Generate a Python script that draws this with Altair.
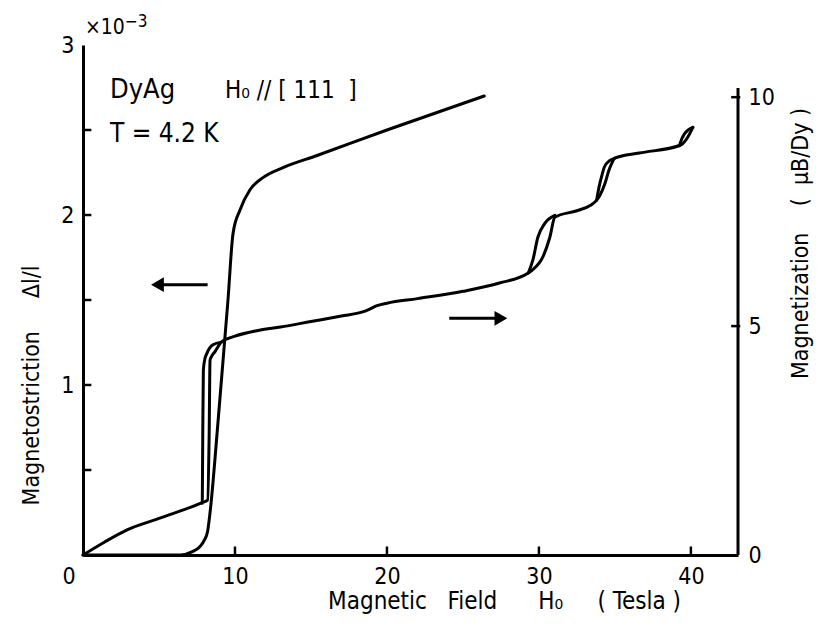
import altair as alt
import pandas as pd

FONT = "DejaVu Sans Condensed, DejaVu Sans"
SP = "\u00a0"

# ---- axis extents ----
x_domain = [0, 43.1]          # Magnetic field (Tesla)
y_left_domain = [0, 3]        # Magnetostriction (x10^-3)
y_right_domain = [0, 11.14]   # Magnetization (muB/Dy)
right_axis_top = 10.2

x_tick_values = [0, 10, 20, 30, 40]
left_label_values = [1, 2, 3]
left_tick_values = [0.5, 1, 1.5, 2, 2.5]
bottom_tick_values = [10, 20, 30, 40]
right_label_values = [0, 5, 10]
right_tick_values = [5, 10]

# ---- magnetostriction curve (left axis) ----
ms_T = [0, 6.4, 7.2, 7.7, 8.0, 8.2, 8.36, 8.9, 9.54, 9.87, 10.33, 11.0, 11.84, 13.2, 15.4, 20.0, 26.4]
ms_V = [0, 0, 0.02, 0.05, 0.09, 0.14, 0.25, 0.8, 1.5, 1.89, 2.03, 2.15, 2.22, 2.28, 2.35, 2.5, 2.7]

# ---- magnetization (right axis): main sweep ----
m_T = [0, 1.4, 2.9, 5.1, 7.8, 8.2, 8.3, 8.36, 8.5, 8.7, 9.1, 10.0, 11.6, 13.0, 15.0, 17.0,
       18.4, 18.8, 19.3, 20.0, 22.0, 25.0, 27.4, 29.3, 29.55, 30.26, 30.72, 31.05, 32.5,
       33.4, 33.8, 34.05, 34.35, 34.6, 34.8, 35.0, 36.6, 39.3, 39.45, 39.8, 40.13]
m_M = [0, 0.28, 0.55, 0.81, 1.14, 1.2, 2.6, 4.26, 4.36, 4.45, 4.65, 4.78, 4.91, 4.98, 5.1, 5.22,
       5.31, 5.36, 5.44, 5.5, 5.6, 5.76, 5.94, 6.16, 6.22, 6.51, 6.94, 7.38, 7.52,
       7.64, 7.75, 7.88, 8.12, 8.4, 8.56, 8.67, 8.78, 8.95, 8.98, 9.13, 9.34]

# hysteresis return branches
b1_T = [7.85, 7.88, 7.92, 8.0, 8.16, 8.55, 9.1]
b1_M = [1.13, 2.6, 4.04, 4.25, 4.41, 4.59, 4.65]
b2_T = [29.3, 29.6, 29.93, 30.4, 31.05]
b2_M = [6.16, 6.44, 6.94, 7.25, 7.42]
b3_T = [33.8, 33.95, 34.15, 34.3, 34.67, 35.0]
b3_M = [7.75, 8.03, 8.3, 8.47, 8.62, 8.67]
b4_T = [39.25, 39.3, 39.6, 40.13]
b4_M = [8.94, 9.0, 9.21, 9.34]

# arrows
left_arrow_T = [4.9, 8.2]
left_arrow_V = 1.59
right_arrow_T = [24.1, 27.5]
right_arrow_M = 5.17

# ---- data frames ----
ms_df = pd.DataFrame({"T": ms_T, "v": ms_V, "i": range(len(ms_T))})

segs = []
for name, ts, ms in [("main", m_T, m_M), ("b1", b1_T, b1_M), ("b2", b2_T, b2_M),
                     ("b3", b3_T, b3_M), ("b4", b4_T, b4_M)]:
    for k, (t, m) in enumerate(zip(ts, ms)):
        segs.append({"T": t, "M": m, "seg": name, "i": k})
m_df = pd.DataFrame(segs)

xs = alt.Scale(domain=x_domain, nice=False, zero=False)
yl = alt.Scale(domain=y_left_domain, nice=False, zero=False)
yr = alt.Scale(domain=y_right_domain, nice=False, zero=False)

x_title = f"Magnetic{SP*3}Field{SP*6}H₀{SP*5}({SP}Tesla{SP})"
left_title = f"Magnetostriction{SP*5}Δl/l"
right_title = f"Magnetization{SP*4}({SP*2}μB/Dy{SP})"

x_axis = alt.Axis(
    values=x_tick_values, ticks=False, grid=False, domainColor="black", domainWidth=3,
    labelFontSize=23, labelFont=FONT, labelColor="black", labelPadding=10,
    labelOffset={"condition": {"test": "datum.value === 0", "value": -21}, "value": 0},
    title=x_title, titleFont=FONT, titleFontSize=24,
    titleFontWeight="normal", titleColor="black", titleX=421, titleY=46,
    titleAnchor="middle", titleAlign="center", titleBaseline="middle",
)
left_axis = alt.Axis(
    values=left_label_values, ticks=False, grid=False, domainColor="black", domainWidth=3,
    labelFontSize=23, labelFont=FONT, labelColor="black", labelPadding=9,
    title=left_title, titleFont=FONT, titleFontSize=23,
    titleFontWeight="normal", titleColor="black", titleX=-52, titleY=340,
    titleAngle=270, titleAlign="center", titleBaseline="middle",
)
right_axis = alt.Axis(
    values=right_label_values, ticks=False, grid=False, domain=False, orient="right",
    labelFontSize=23, labelFont=FONT, labelColor="black", labelPadding=10,
    title=right_title, titleFont=FONT, titleFontSize=23,
    titleFontWeight="normal", titleColor="black", titleX=62, titleY=198,
    titleAngle=270, titleAlign="center", titleBaseline="middle",
)

X = lambda f: alt.X(f, scale=xs, axis=x_axis)
YL = lambda f: alt.Y(f, scale=yl, axis=left_axis)
YR = lambda f: alt.Y(f, scale=yr, axis=right_axis)

# ---- left-scale layer ----
ms_line = alt.Chart(ms_df).mark_line(color="black", strokeWidth=3, strokeJoin="round",
                                     strokeCap="round", interpolate="monotone").encode(
    x=X("T:Q"), y=YL("v:Q"), order="i:Q",
)

lt_df = pd.DataFrame({"y": left_tick_values, "x0": 0.0, "x1": 0.55})
left_ticks = alt.Chart(lt_df).mark_rule(color="black", strokeWidth=2.5).encode(
    x=X("x0:Q"), x2="x1:Q", y=YL("y:Q"),
)
bt_df = pd.DataFrame({"T": bottom_tick_values, "y0": 0.0, "y1": 0.05})
bottom_ticks = alt.Chart(bt_df).mark_rule(color="black", strokeWidth=2.5).encode(
    x=X("T:Q"), y=YL("y0:Q"), y2="y1:Q",
)
la_df = pd.DataFrame({"x0": [left_arrow_T[0]], "x1": [left_arrow_T[1]], "y": [left_arrow_V]})
left_arrow_shaft = alt.Chart(la_df).mark_rule(color="black", strokeWidth=3).encode(
    x=X("x0:Q"), x2="x1:Q", y=YL("y:Q"),
)
left_arrow_head = alt.Chart(la_df).mark_point(shape="triangle-left", filled=True, color="black",
                                              size=220, opacity=1).encode(
    x=X("x0:Q"), y=YL("y:Q"),
)

def label(txt, x, y, size=24):
    return alt.Chart(pd.DataFrame({"t": [txt]})).mark_text(
        align="left", baseline="alphabetic", font=FONT, fontSize=size, color="black"
    ).encode(text="t:N", x=alt.value(x), y=alt.value(y))

texts = [
    label("DyAg", 27, 53, 27),
    label(f"H₀{SP}//{SP}[{SP}111{SP*2}]", 142, 53, 24),
    label("T = 4.2 K", 27, 97, 26),
    label("×10", 2, -11, 21),
    label("−3", 42, -18, 17),
]

layer_left = alt.layer(ms_line, left_ticks, bottom_ticks, left_arrow_shaft, left_arrow_head, *texts)

# ---- right-scale layer ----
m_lines = alt.Chart(m_df).mark_line(color="black", strokeWidth=3, strokeJoin="round",
                                    strokeCap="round", interpolate="monotone").encode(
    x=X("T:Q"), y=YR("M:Q"), detail="seg:N", order="i:Q",
)
ra_df = pd.DataFrame({"x": [x_domain[1]], "y0": [0.0], "y1": [right_axis_top]})
right_domain = alt.Chart(ra_df).mark_rule(color="black", strokeWidth=3).encode(
    x=X("x:Q"), y=YR("y0:Q"), y2="y1:Q",
)
rt_df = pd.DataFrame({"y": right_tick_values, "x0": x_domain[1] - 0.45, "x1": x_domain[1] + 0.15})
right_ticks = alt.Chart(rt_df).mark_rule(color="black", strokeWidth=2.5).encode(
    x=X("x0:Q"), x2="x1:Q", y=YR("y:Q"),
)
ra2_df = pd.DataFrame({"x0": [right_arrow_T[0]], "x1": [right_arrow_T[1]], "y": [right_arrow_M]})
right_arrow_shaft = alt.Chart(ra2_df).mark_rule(color="black", strokeWidth=3).encode(
    x=X("x0:Q"), x2="x1:Q", y=YR("y:Q"),
)
right_arrow_head = alt.Chart(ra2_df).mark_point(shape="triangle-right", filled=True, color="black",
                                                size=220, opacity=1).encode(
    x=X("x1:Q"), y=YR("y:Q"),
)

layer_right = alt.layer(m_lines, right_domain, right_ticks, right_arrow_shaft, right_arrow_head)

chart = alt.layer(layer_left, layer_right).resolve_scale(y="independent").properties(
    width=655, height=510,
    padding={"left": 75, "top": 37, "right": 80, "bottom": 60},
    autosize=alt.AutoSizeParams(type="none"),
    background="white",
).configure_view(stroke=None)

chart.save("out.html", embed_options={"renderer": "svg", "actions": False})
